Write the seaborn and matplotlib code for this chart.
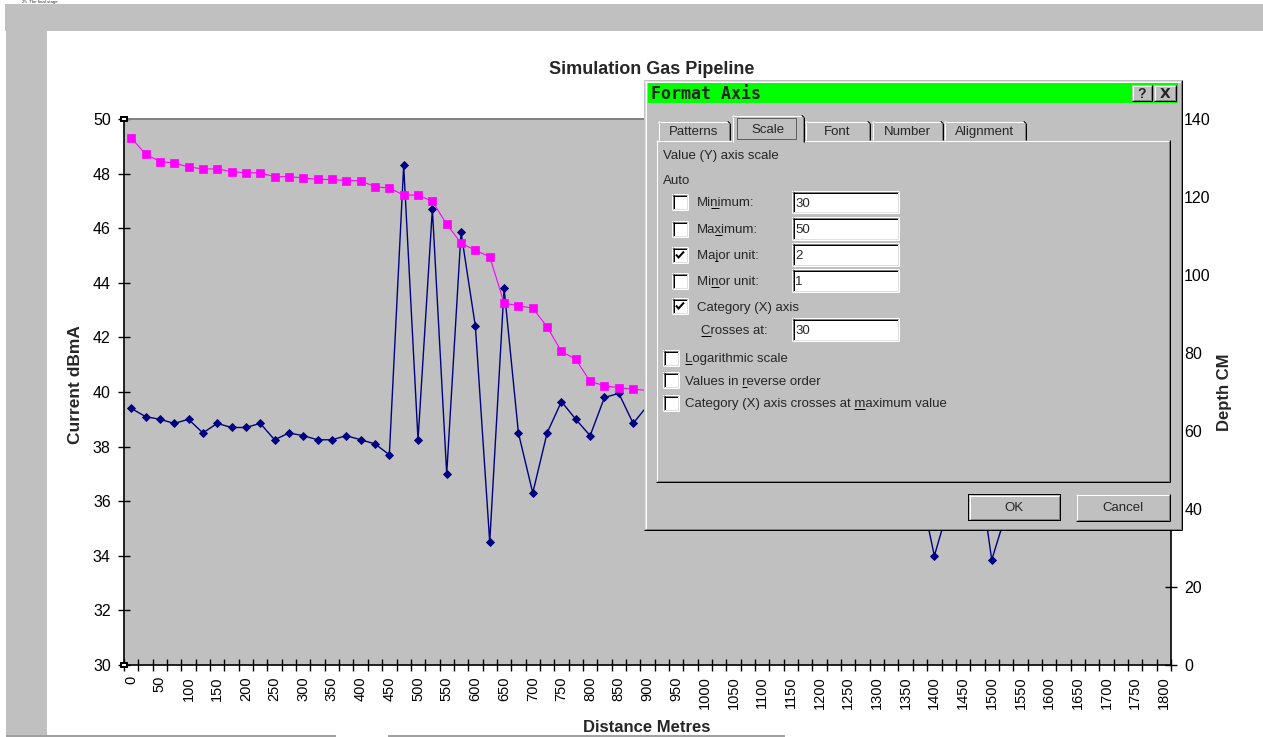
import numpy as np
import pandas as pd
import matplotlib
matplotlib.use("Agg")
import matplotlib.pyplot as plt
import seaborn as sns
from matplotlib.patches import Rectangle
from matplotlib.font_manager import FontProperties

# ---------------- data ----------------
distance_m = [0, 25, 50, 75, 100, 125, 150, 175, 200, 225, 250, 275, 300, 325, 350,
              375, 400, 425, 450, 475, 500, 525, 550, 575, 600, 625, 650, 675, 700,
              725, 750, 775, 800, 825, 850, 875, 900, 925, 950, 975, 1000, 1025, 1050,
              1075, 1100, 1125, 1150, 1175, 1200, 1225, 1250, 1275, 1300, 1325, 1350,
              1375, 1400, 1425, 1450, 1475, 1500, 1525, 1550, 1575, 1600, 1625, 1650,
              1675, 1700, 1725, 1750, 1775, 1800]

current_dbma = [39.4, 39.1, 39.0, 38.85, 39.0, 38.5, 38.85, 38.7, 38.7, 38.85,
                38.25, 38.5, 38.4, 38.25, 38.25, 38.4, 38.25, 38.1, 37.7, 48.3,
                38.25, 46.7, 37.0, 45.85, 42.4, 34.5, 43.8, 38.5, 36.3, 38.5,
                39.65, 39.0, 38.4, 39.8, 39.95, 38.85, 39.5, 39.7, 40.2, 39.3,
                39.8, 40.4, 39.6, 39.9, 40.5, 39.4, 40.1, 39.8, 40.6, 39.5,
                40.3, 39.7, 40.0, 39.2, 38.6, 36.5, 34.0, 35.8, 38.9, 37.6,
                33.85, 35.55, 38.8, 39.4, 39.9, 39.5, 40.2, 39.6, 39.9, 40.3,
                39.7, 40.1, 39.8]

depth_cm = [135.2, 131.0, 129.1, 128.7, 127.7, 127.2, 127.2, 126.5, 126.2, 126.2,
            125.2, 125.2, 124.9, 124.5, 124.5, 124.2, 124.2, 122.6, 122.3, 120.5,
            120.5, 118.9, 113.0, 108.2, 106.3, 104.7, 92.8, 92.1, 91.5, 86.7,
            80.4, 78.4, 72.7, 71.6, 71.1, 70.7, 70.4, 70.1, 69.4, 69.2, 68.3,
            68.0, 67.1, 66.9, 66.0, 65.7, 64.8, 64.3, 63.2, 62.9, 61.8, 61.5,
            60.4, 59.9, 58.9, 58.5, 57.4, 57.0, 55.8, 55.4, 54.3, 53.9, 52.8,
            52.4, 51.3, 50.9, 49.8, 49.3, 48.4, 47.9, 47.0, 46.6, 45.8]

x_tick_values = [0, 50, 100, 150, 200, 250, 300, 350, 400, 450, 500, 550, 600, 650,
                 700, 750, 800, 850, 900, 950, 1000, 1050, 1100, 1150, 1200, 1250,
                 1300, 1350, 1400, 1450, 1500, 1550, 1600, 1650, 1700, 1750, 1800]
x_tick_labels = [str(v) for v in x_tick_values]
left_ticks = [30, 32, 34, 36, 38, 40, 42, 44, 46, 48, 50]
right_ticks = [0, 20, 40, 60, 80, 100, 120, 140]

title = "Simulation Gas Pipeline"
xlabel = "Distance Metres"
ylabel_left = "Current dBmA"
ylabel_right = "Depth CM"

# ---------------- style ----------------
sns.set_style("ticks")
plt.rcParams["font.family"] = ["Liberation Sans", "DejaVu Sans"]

W, H = 1263, 737
fig = plt.figure(figsize=(W / 100, H / 100), dpi=100)
fig.patch.set_facecolor("white")


def fx(px):
    return px / W


def fy(py):
    return 1 - py / H


L, R, T, B = 124, 1171, 119, 665
ax = fig.add_axes([fx(L), fy(B), fx(R) - fx(L), fy(T) - fy(B)])
ax.set_facecolor("#C0C0C0")

df = pd.DataFrame({"distance": distance_m, "current": current_dbma, "depth": depth_cm})

sns.lineplot(data=df, x="distance", y="current", ax=ax, color="#000080",
             marker="D", markersize=3.8, markeredgecolor="#000080",
             markeredgewidth=0.6, linewidth=1.0, estimator=None, zorder=3)

ax2 = ax.twinx()
sns.lineplot(data=df, x="distance", y="depth", ax=ax2, color="#FF00FF",
             marker="s", markersize=5.4, markeredgecolor="#FF00FF",
             markeredgewidth=0.5, linewidth=0.8, estimator=None)

ax.set_xlim(-12.5, 1812.5)
ax.set_ylim(30, 50)
ax2.set_ylim(0, 140)

ax.set_yticks(left_ticks)
ax.set_yticklabels([str(v) for v in left_ticks])
ax2.set_yticks(right_ticks)
ax2.set_yticklabels([str(v) for v in right_ticks])

ax.set_xticks(x_tick_values)
ax.set_xticklabels(x_tick_labels, rotation=90)
ax.set_xticks(np.arange(-12.5, 1825, 25), minor=True)
ax.tick_params(axis="x", which="major", length=0, pad=8, labelsize=10.5, colors="black")
ax.tick_params(axis="x", which="minor", length=8, width=1, direction="inout", color="black")
ax.tick_params(axis="y", which="major", length=9, width=1, direction="inout", pad=5,
               labelsize=11.5, colors="black")
ax2.tick_params(axis="y", which="major", length=9, width=1, direction="inout", pad=5,
                labelsize=11.5, colors="black")
ax.set_xlabel("")
ax.set_ylabel("")
ax2.set_ylabel("")

for a in (ax, ax2):
    for s in ("left", "bottom", "right"):
        a.spines[s].set_color("black")
        a.spines[s].set_linewidth(1.2)
    a.spines["top"].set_color("#808080")
    a.spines["top"].set_linewidth(1.2)
ax.spines["right"].set_visible(False)
ax2.spines["left"].set_visible(False)
ax2.spines["bottom"].set_visible(False)

fig.text(fx(652), fy(69), title, ha="center", va="center", fontsize=13, fontweight="bold")
fig.text(fx(647), fy(727), xlabel, ha="center", va="center", fontsize=12, fontweight="bold")
fig.text(fx(75), fy(385), ylabel_left, ha="center", va="center", rotation=90,
         fontsize=12.5, fontweight="bold")
fig.text(fx(1225), fy(392), ylabel_right, ha="center", va="center", rotation=90,
         fontsize=12, fontweight="bold")

# ---------------- overlay (screenshot frame + dialog) ----------------
ov = fig.add_axes([0, 0, 1, 1])
ov.set_xlim(0, W)
ov.set_ylim(H, 0)
ov.axis("off")
ov.set_zorder(10)
ov.patch.set_alpha(0)

PX = 0.72  # one pixel in points


def rect(x0, y0, x1, y1, fc, z=1, ec="none", lw=0, ls="-"):
    ov.add_patch(Rectangle((x0, y0), x1 - x0, y1 - y0, facecolor=fc, edgecolor=ec,
                           linewidth=lw, linestyle=ls, zorder=z))


def hl(x0, x1, y, c, z=2, w=1):
    ov.plot([x0, x1], [y, y], color=c, lw=w * PX, solid_capstyle="butt", zorder=z)


def vl(x, y0, y1, c, z=2, w=1):
    ov.plot([x, x], [y0, y1], color=c, lw=w * PX, solid_capstyle="butt", zorder=z)


def raised(x0, y0, x1, y1, z=2):
    rect(x0, y0, x1, y1, "#C0C0C0", z=z)
    hl(x0, x1, y0 + 0.5, "white", z + 0.1)
    vl(x0 + 0.5, y0, y1, "white", z + 0.1)
    hl(x0, x1, y1 - 0.5, "black", z + 0.1)
    vl(x1 - 0.5, y0, y1, "black", z + 0.1)
    hl(x0 + 1, x1 - 1, y1 - 1.5, "#808080", z + 0.1)
    vl(x1 - 1.5, y0 + 1, y1 - 1, "#808080", z + 0.1)


def sunken(x0, y0, x1, y1, z=3):
    rect(x0, y0, x1, y1, "white", z=z)
    hl(x0, x1, y0 + 0.5, "#808080", z + 0.1)
    vl(x0 + 0.5, y0, y1, "#808080", z + 0.1)
    hl(x0 + 1, x1 - 1, y0 + 1.5, "black", z + 0.1)
    vl(x0 + 1.5, y0 + 1, y1 - 1, "black", z + 0.1)
    hl(x0, x1, y1 - 0.5, "white", z + 0.1)
    vl(x1 - 0.5, y0, y1, "white", z + 0.1)
    hl(x0 + 1, x1 - 1, y1 - 1.5, "#DFDFDF", z + 0.1)
    vl(x1 - 1.5, y0 + 1, y1 - 1, "#DFDFDF", z + 0.1)


# screenshot frame: heading fragment above the frame, gray bands
fig.text(fx(22), fy(0.5), "25. The final stage", fontsize=3.2, va="top", ha="left",
         color="#303030", zorder=0)
rect(5, 4, W, 31, "#C0C0C0", z=1)
rect(6, 4, 47, H, "#C0C0C0", z=1)
hl(6, 336, 735.5, "#A0A0A0", z=1, w=2)
hl(388, 785, 735.5, "#A0A0A0", z=1, w=2)

# selection handles on the value axis
for yy in (T, B):
    rect(L - 4, yy - 3, L + 4, yy + 3, "black", z=2)
    rect(L - 2, yy - 1, L + 2, yy + 1, "white", z=2.1)

# dialog
DX0, DY0, DX1, DY1 = 644, 80, 1182, 530
rect(DX0, DY0, DX1, DY1, "#C0C0C0", z=2)
hl(DX0, DX1, DY0 + 0.5, "#DFDFDF", 2.1)
vl(DX0 + 0.5, DY0, DY1, "#DFDFDF", 2.1)
hl(DX0 + 1, DX1 - 1, DY0 + 1.5, "white", 2.1)
vl(DX0 + 1.5, DY0 + 1, DY1 - 1, "white", 2.1)
hl(DX0, DX1, DY1 - 0.5, "black", 2.1)
vl(DX1 - 0.5, DY0, DY1, "black", 2.1)
hl(DX0 + 1, DX1 - 1, DY1 - 1.5, "#808080", 2.1)
vl(DX1 - 1.5, DY0 + 1, DY1 - 1, "#808080", 2.1)

rect(648, 83, 1178, 103, "#00FF00", z=2.2)
ov.text(651, 93.5, "Format Axis", fontsize=12, fontweight="bold", va="center", ha="left",
        family=["DejaVu Sans Mono"], zorder=3)
raised(1132, 85, 1152, 101, z=3)
raised(1154, 85, 1176, 101, z=3)
ov.text(1142, 93.5, "?", fontsize=10, fontweight="bold", ha="center", va="center", zorder=4)
ov.text(1165, 93.5, "X", fontsize=10, fontweight="bold", ha="center", va="center",
        family=["DejaVu Sans"], zorder=4)

# tab panel
PX0, PY0, PX1, PY1 = 656, 140, 1170, 482
rect(PX0, PY0, PX1, PY1, "#C0C0C0", z=2.3)
hl(PX0, PX1, PY0 + 0.5, "white", 2.4)
vl(PX0 + 0.5, PY0, PY1, "white", 2.4)
hl(PX0, PX1, PY1 - 0.5, "black", 2.4)
vl(PX1 - 0.5, PY0, PY1, "black", 2.4)
hl(PX0 + 1, PX1 - 1, PY1 - 1.5, "#808080", 2.4)
vl(PX1 - 1.5, PY0 + 1, PY1 - 1, "#808080", 2.4)

FS = 9.5
FAM = ["Liberation Sans"]


def tab(x0, x1, top, label, bottom=140, z=2.5):
    rect(x0, top, x1, bottom, "#C0C0C0", z=z)
    hl(x0 + 2, x1 - 2, top + 0.5, "white", z + 0.1)
    vl(x0 + 0.5, top + 2, bottom, "white", z + 0.1)
    ov.plot([x0 + 0.5, x0 + 2], [top + 2, top + 0.5], color="white", lw=PX, zorder=z + 0.1)
    vl(x1 - 0.5, top + 2, bottom, "black", z + 0.1)
    vl(x1 - 1.5, top + 1, bottom, "#808080", z + 0.1)
    ov.plot([x1 - 2, x1 - 0.5], [top + 0.5, top + 2], color="black", lw=PX, zorder=z + 0.1)
    ov.text((x0 + x1) / 2, (top + bottom) / 2 + 1.5, label, fontsize=FS, ha="center",
            va="center", family=FAM, zorder=z + 0.2)


tab(658, 730, 121, "Patterns")
tab(805, 870, 121, "Font")
tab(872, 943, 121, "Number")
tab(944, 1026, 121, "Alignment")
tab(732, 804, 115, "Scale", bottom=142, z=2.7)
rect(737, 118, 796, 139, "none", z=3, ec="black", lw=PX, ls=(0, (1, 1)))

fig.canvas.draw()
renderer = fig.canvas.get_renderer()
prop = FontProperties(family=FAM, size=FS)


def label(x, yc, s, u=None):
    base = yc + 4
    ov.text(x, base, s, fontsize=FS, ha="left", va="baseline", family=FAM, zorder=4)
    if u is not None:
        w1 = renderer.get_text_width_height_descent(s[:u], prop, ismath=False)[0] if u > 0 else 0
        w2 = renderer.get_text_width_height_descent(s[:u + 1], prop, ismath=False)[0]
        hl(x + w1, x + w2, base + 1.5, "black", 4)


def checkbox(x0, yc, checked=False):
    y0 = yc - 8
    sunken(x0, y0, x0 + 16, y0 + 16, z=3)
    if checked:
        ov.plot([x0 + 4, x0 + 6.5, x0 + 12], [y0 + 7.5, y0 + 10.5, y0 + 4.5], color="black",
                lw=2 * PX, zorder=4, solid_capstyle="butt", solid_joinstyle="miter")


def textbox(y0, y1, s):
    sunken(792, y0, 899, y1, z=3)
    ov.text(795, (y0 + y1) / 2 + 4.5, s, fontsize=FS, ha="left", va="baseline", family=FAM,
            zorder=4)


label(663, 155, "Value (Y) axis scale")
label(663, 180, "Auto")

rows = [(202, "Minimum:", 2, False, "30", (191, 213)),
        (229, "Maximum:", 2, False, "50", (217, 240)),
        (255, "Major unit:", 2, True, "2", (243, 266)),
        (281, "Minor unit:", 2, False, "1", (269, 292))]
for yc, s, u, chk, val, (b0, b1) in rows:
    checkbox(672, yc, chk)
    label(697, yc, s, u)
    textbox(b0, b1, val)

checkbox(672, 306, True)
label(697, 307, "Category (X) axis")
label(701, 330, "Crosses at:", 0)
textbox(318, 341, "30")

checkbox(663, 358, False)
label(685, 358, "Logarithmic scale", 0)
checkbox(663, 380, False)
label(685, 381, "Values in reverse order", 10)
checkbox(663, 403, False)
label(685, 403, "Category (X) axis crosses at maximum value", 29)

# buttons
rect(968, 494, 1061, 521, "black", z=3)
raised(969, 495, 1060, 520, z=3.1)
ov.text(1014, 508, "OK", fontsize=FS, ha="center", va="center", family=FAM, zorder=4)
raised(1076, 494, 1170, 521, z=3)
ov.text(1123, 508, "Cancel", fontsize=FS, ha="center", va="center", family=FAM, zorder=4)

fig.savefig("out.png", dpi=100)
